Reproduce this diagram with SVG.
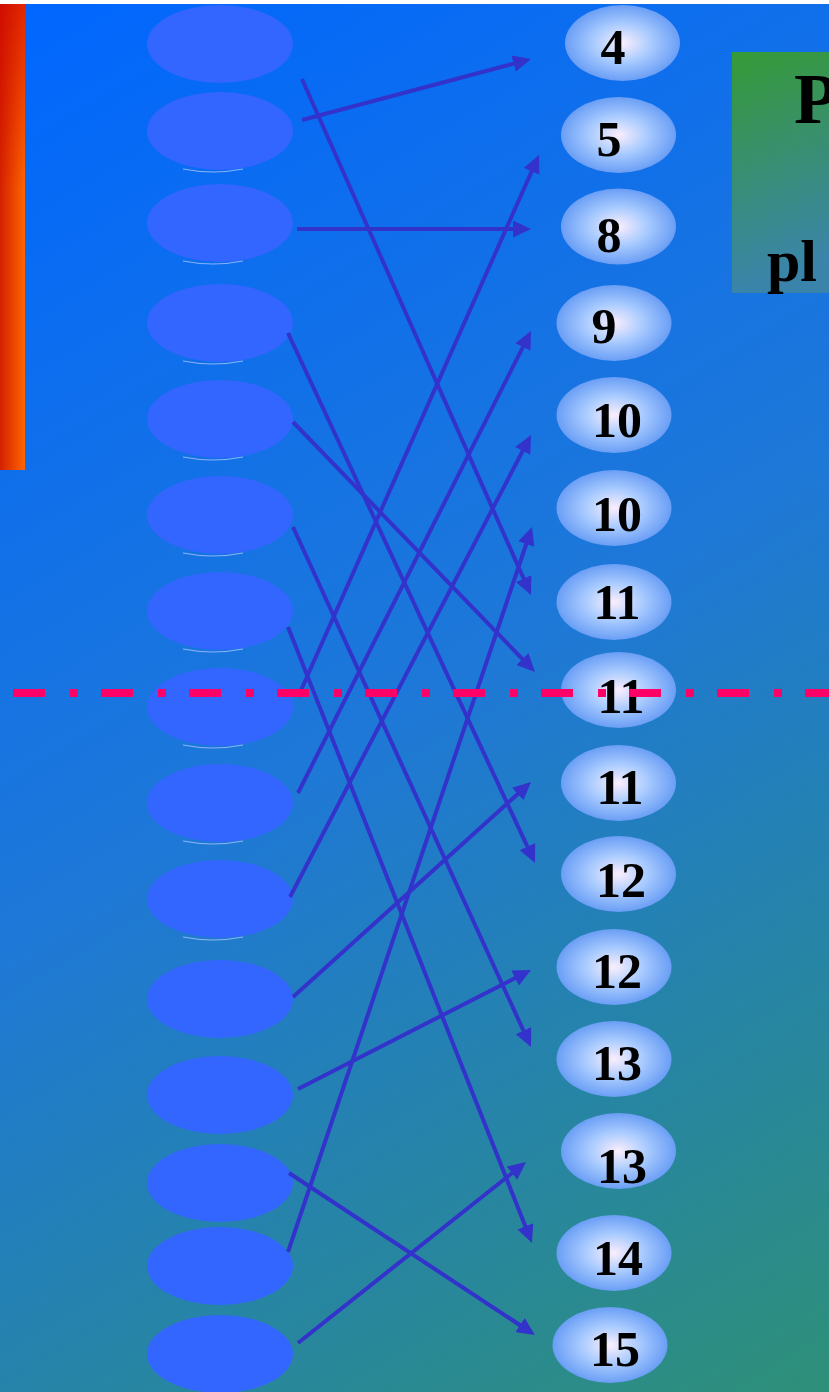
<svg xmlns="http://www.w3.org/2000/svg" width="829" height="1392" viewBox="0 0 829 1392">
<defs>
<linearGradient id="bg" gradientUnits="userSpaceOnUse" x1="0" y1="0" x2="829" y2="1392">
<stop offset="0" stop-color="#0066ff"/>
<stop offset="0.5" stop-color="#1e78d8"/>
<stop offset="1" stop-color="#2e9078"/>
</linearGradient>
<linearGradient id="bar" x1="0" y1="0" x2="1" y2="0">
<stop offset="0" stop-color="#d42000"/>
<stop offset="1" stop-color="#ff6600"/>
</linearGradient>
<linearGradient id="barTop" x1="0" y1="0" x2="0" y2="1">
<stop offset="0" stop-color="#cc0000" stop-opacity="0.6"/>
<stop offset="0.4" stop-color="#cc0000" stop-opacity="0"/>
</linearGradient>
<linearGradient id="title" x1="0" y1="0" x2="0.15" y2="1">
<stop offset="0" stop-color="#369a36"/>
<stop offset="1" stop-color="#3a84ac"/>
</linearGradient>
<radialGradient id="val" cx="0.5" cy="0.5" r="0.5">
<stop offset="0" stop-color="#fbeefc"/>
<stop offset="0.5" stop-color="#a9cbff"/>
<stop offset="1" stop-color="#6a9ef5"/>
</radialGradient>
<marker id="ah" viewBox="0 0 18 17" markerWidth="18" markerHeight="17" markerUnits="userSpaceOnUse" refX="8" refY="8.5" orient="auto">
<path d="M0,0 L18,8.5 L0,17 z" fill="#3333cc"/>
</marker>
<style>
.src{fill:#3366ff}
.hl{fill:none;stroke:#a8c4ff;stroke-width:1.2;opacity:0.8}
.dst{fill:url(#val)}
.num{font-family:"Liberation Serif","Times New Roman",serif;font-weight:bold;font-size:50px;fill:#000;text-anchor:middle}
.ttl{font-family:"Liberation Serif","Times New Roman",serif;font-weight:bold;fill:#000}
.con{fill:none;stroke:#3333cc;stroke-width:4;marker-end:url(#ah)}
</style>
</defs>
<rect x="0" y="0" width="829" height="1392" fill="#ffffff"/>
<rect x="0" y="4" width="829" height="1388" fill="url(#bg)"/>
<g id="sidebar">
<rect x="0" y="4" width="25" height="466" fill="url(#bar)"/>
<rect x="0" y="4" width="25" height="466" fill="url(#barTop)"/>
</g>
<g id="title-box">
<rect x="732" y="52" width="97" height="241" fill="url(#title)"/>
<text class="ttl" x="794" y="123" font-size="72">P</text>
<text class="ttl" x="767" y="281" font-size="60">pl</text>
</g>
<g id="left-nodes">
<g id="s1"><ellipse class="src" cx="220" cy="44" rx="73" ry="39"/></g>
<g id="s2"><ellipse class="src" cx="220" cy="131" rx="73" ry="39"/><path class="hl" d="M183,169 Q213,175 243,169"/></g>
<g id="s3"><ellipse class="src" cx="220" cy="223" rx="73" ry="39"/><path class="hl" d="M183,261 Q213,267 243,261"/></g>
<g id="s4"><ellipse class="src" cx="220" cy="323" rx="73" ry="39"/><path class="hl" d="M183,361 Q213,367 243,361"/></g>
<g id="s5"><ellipse class="src" cx="220" cy="419" rx="73" ry="39"/><path class="hl" d="M183,457 Q213,463 243,457"/></g>
<g id="s6"><ellipse class="src" cx="220" cy="515" rx="73" ry="39"/><path class="hl" d="M183,553 Q213,559 243,553"/></g>
<g id="s7"><ellipse class="src" cx="220" cy="611" rx="73" ry="39"/><path class="hl" d="M183,649 Q213,655 243,649"/></g>
<g id="s8"><ellipse class="src" cx="220" cy="707" rx="73" ry="39"/><path class="hl" d="M183,745 Q213,751 243,745"/></g>
<g id="s9"><ellipse class="src" cx="220" cy="803" rx="73" ry="39"/><path class="hl" d="M183,841 Q213,847 243,841"/></g>
<g id="s10"><ellipse class="src" cx="220" cy="899" rx="73" ry="39"/><path class="hl" d="M183,937 Q213,943 243,937"/></g>
<g id="s11"><ellipse class="src" cx="220" cy="999" rx="73" ry="39"/></g>
<g id="s12"><ellipse class="src" cx="220" cy="1095" rx="73" ry="39"/></g>
<g id="s13"><ellipse class="src" cx="220" cy="1183" rx="73" ry="39"/></g>
<g id="s14"><ellipse class="src" cx="220" cy="1266" rx="73" ry="39"/></g>
<g id="s15"><ellipse class="src" cx="220" cy="1354" rx="73" ry="39"/></g>
</g>
<g id="right-nodes">
<g id="v4"><ellipse class="dst" cx="622.5" cy="43" rx="57.5" ry="38"/><text class="num" x="613" y="64">4</text></g>
<g id="v5"><ellipse class="dst" cx="618.5" cy="135" rx="57.5" ry="38"/><text class="num" x="609" y="156">5</text></g>
<g id="v8"><ellipse class="dst" cx="618.5" cy="226.5" rx="57.5" ry="38"/><text class="num" x="609" y="252">8</text></g>
<g id="v9"><ellipse class="dst" cx="614" cy="323" rx="57.5" ry="38"/><text class="num" x="604" y="343">9</text></g>
<g id="v10a"><ellipse class="dst" cx="614" cy="415" rx="57.5" ry="38"/><text class="num" x="617" y="437">10</text></g>
<g id="v10b"><ellipse class="dst" cx="614" cy="508" rx="57.5" ry="38"/><text class="num" x="617" y="531">10</text></g>
<g id="v11a"><ellipse class="dst" cx="614" cy="602" rx="57.5" ry="38"/><text class="num" x="617" y="619">11</text></g>
<g id="v11b"><ellipse class="dst" cx="618.5" cy="690" rx="57.5" ry="38"/><text class="num" x="621" y="713">11</text></g>
<g id="v11c"><ellipse class="dst" cx="618.5" cy="783" rx="57.5" ry="38"/><text class="num" x="620" y="804">11</text></g>
<g id="v12a"><ellipse class="dst" cx="618.5" cy="874" rx="57.5" ry="38"/><text class="num" x="621" y="897">12</text></g>
<g id="v12b"><ellipse class="dst" cx="614" cy="967" rx="57.5" ry="38"/><text class="num" x="617" y="988">12</text></g>
<g id="v13a"><ellipse class="dst" cx="614" cy="1059" rx="57.5" ry="38"/><text class="num" x="617" y="1080">13</text></g>
<g id="v13b"><ellipse class="dst" cx="618.5" cy="1151" rx="57.5" ry="38"/><text class="num" x="622" y="1183">13</text></g>
<g id="v14"><ellipse class="dst" cx="614" cy="1253" rx="57.5" ry="38"/><text class="num" x="618" y="1275">14</text></g>
<g id="v15"><ellipse class="dst" cx="610" cy="1345" rx="57.5" ry="38"/><text class="num" x="615" y="1366">15</text></g>
</g>
<g id="connectors">
<line class="con" x1="302" y1="79" x2="526.9" y2="585.9"/>
<line class="con" x1="302" y1="120" x2="521.3" y2="61.6"/>
<line class="con" x1="297" y1="229" x2="521" y2="229"/>
<line class="con" x1="288" y1="333" x2="530.8" y2="853.9"/>
<line class="con" x1="293" y1="422" x2="528" y2="664.8"/>
<line class="con" x1="293" y1="527" x2="526.8" y2="1037.9"/>
<line class="con" x1="288" y1="627" x2="528.3" y2="1233.7"/>
<line class="con" x1="298" y1="697" x2="534.9" y2="164.1"/>
<line class="con" x1="298" y1="793" x2="526.5" y2="339.9"/>
<line class="con" x1="290" y1="897" x2="526.4" y2="443.9"/>
<line class="con" x1="293" y1="997" x2="523.6" y2="788.7"/>
<line class="con" x1="298" y1="1089" x2="522.1" y2="974.5"/>
<line class="con" x1="289" y1="1173" x2="526.6" y2="1329.5"/>
<line class="con" x1="288" y1="1252" x2="528.8" y2="536.5"/>
<line class="con" x1="298" y1="1343" x2="518.2" y2="1168.2"/>
</g>
<g id="median-line">
<line x1="13" y1="693" x2="829" y2="693" stroke="#ff0066" stroke-width="8" stroke-dasharray="32 25 8 23"/>
</g>
</svg>
